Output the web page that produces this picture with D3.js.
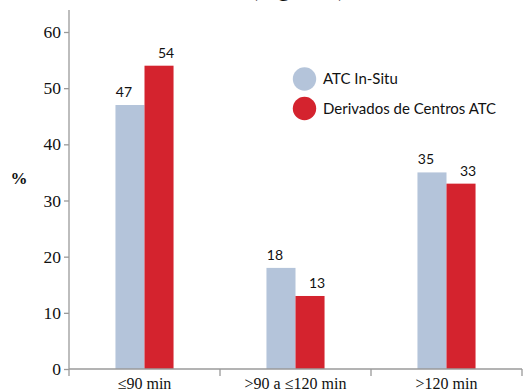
<!DOCTYPE html>
<html>
<head>
<meta charset="utf-8">
<script src="https://cdn.jsdelivr.net/npm/d3@7/dist/d3.min.js"></script>
<style>
  html, body { margin: 0; padding: 0; background: #fff; }
  svg { display: block; }
</style>
</head>
<body>
<svg id="chart" width="528" height="392"></svg>
<script>
// Time-to-treatment groups and the share (%) of patients in each
const categories = ["\u226490 min", ">90 a \u2264120 min", ">120 min"];
const seriesNames = ["ATC In-Situ", "Derivados de Centros ATC"];
const inSitu = [47, 18, 35];
const derivados = [54, 13, 33];
const yTicks = [0, 10, 20, 30, 40, 50, 60];
const colors = ["#b4c4da", "#d4232e"];

(function draw() {
  const svg = d3.select("#chart");
  const plotLeft = 69, plotRight = 522, plotTop = 32, plotBottom = 369;

  const y = d3.scaleLinear().domain([0, 60]).range([plotBottom, plotTop]);
  const x = d3.scaleBand().domain(categories).range([plotLeft, plotRight]).paddingInner(0).paddingOuter(0);
  const xSub = d3.scaleBand().domain(seriesNames).range([0, x.bandwidth()]).paddingInner(0).paddingOuter(1.6);

  const axisColor = "#9a9a9a";
  // value labels sit toward the outer edge of each pair
  const labelShift = [-6, 7];

  // Partially visible heading above the plot
  svg.append("text")
    .attr("x", 298).attr("y", -4.5)
    .attr("text-anchor", "middle")
    .attr("font-family", "Liberation Serif, serif")
    .attr("font-size", 24)
    .attr("fill", "#111")
    .text("(Figura 3)");

  // Bars
  const rows = categories.map((c, i) => ({ cat: c, values: [inSitu[i], derivados[i]] }));
  const groups = svg.append("g").selectAll("g")
    .data(rows).join("g")
    .attr("transform", d => `translate(${x(d.cat)},0)`);

  const cells = d => d.values.map((v, k) => ({ name: seriesNames[k], v, k }));

  groups.selectAll("rect")
    .data(cells)
    .join("rect")
    .attr("x", d => xSub(d.name))
    .attr("width", xSub.bandwidth())
    .attr("y", d => y(d.v))
    .attr("height", d => y(0) - y(d.v))
    .attr("fill", d => colors[d.k]);

  groups.selectAll("text.val")
    .data(cells)
    .join("text")
    .attr("class", "val")
    .attr("x", d => xSub(d.name) + xSub.bandwidth() / 2 + labelShift[d.k])
    .attr("y", d => y(d.v) - 8)
    .attr("text-anchor", "middle")
    .attr("font-family", "Lato, 'Noto Sans', sans-serif")
    .attr("font-size", 14)
    .attr("fill", "#111")
    .text(d => d.v);

  // Y axis
  const yAxis = d3.axisLeft(y).tickValues(yTicks).tickSize(5).tickPadding(3).tickFormat(d3.format("d"));
  const gy = svg.append("g").attr("transform", `translate(${plotLeft},0)`).call(yAxis);
  gy.select(".domain").remove();
  gy.append("line").attr("x1", 0).attr("x2", 0).attr("y1", 10).attr("y2", plotBottom)
    .attr("stroke", axisColor).attr("stroke-width", 1.3);
  gy.selectAll(".tick line").attr("stroke", axisColor).attr("stroke-width", 1.3);
  gy.selectAll(".tick text")
    .attr("font-family", "Liberation Serif, serif")
    .attr("font-size", 17.5)
    .attr("fill", "#111");

  // X axis
  const gx = svg.append("g").attr("transform", `translate(0,${plotBottom})`);
  gx.append("line").attr("x1", plotLeft).attr("x2", plotRight).attr("y1", 0).attr("y2", 0)
    .attr("stroke", axisColor).attr("stroke-width", 1.3);
  const boundaries = [plotLeft].concat(categories.map(c => x(c) + x.bandwidth()));
  gx.selectAll("line.tk").data(boundaries).join("line")
    .attr("class", "tk")
    .attr("x1", d => d).attr("x2", d => d).attr("y1", 0).attr("y2", 7)
    .attr("stroke", axisColor).attr("stroke-width", 1.3);
  gx.selectAll("text").data(categories).join("text")
    .attr("x", d => x(d) + x.bandwidth() / 2)
    .attr("y", 20)
    .attr("text-anchor", "middle")
    .attr("font-family", "Liberation Serif, serif")
    .attr("font-size", 16)
    .attr("fill", "#111")
    .text(d => d);

  // Y axis title
  svg.append("text")
    .attr("x", 19).attr("y", 184)
    .attr("text-anchor", "middle")
    .attr("font-family", "Liberation Serif, serif")
    .attr("font-weight", "bold")
    .attr("font-size", 17)
    .attr("fill", "#111")
    .text("%");

  // Legend
  const legend = svg.append("g").selectAll("g")
    .data(seriesNames).join("g")
    .attr("transform", (d, i) => `translate(304.5,${79 + i * 29.5})`);
  legend.append("circle").attr("r", 11.7).attr("fill", (d, i) => colors[i]);
  legend.append("text")
    .attr("x", 18.5).attr("y", 5.2)
    .attr("font-family", "Lato, 'Noto Sans', sans-serif")
    .attr("font-size", 15)
    .attr("fill", "#111")
    .text(d => d);
})();
</script>
</body>
</html>
